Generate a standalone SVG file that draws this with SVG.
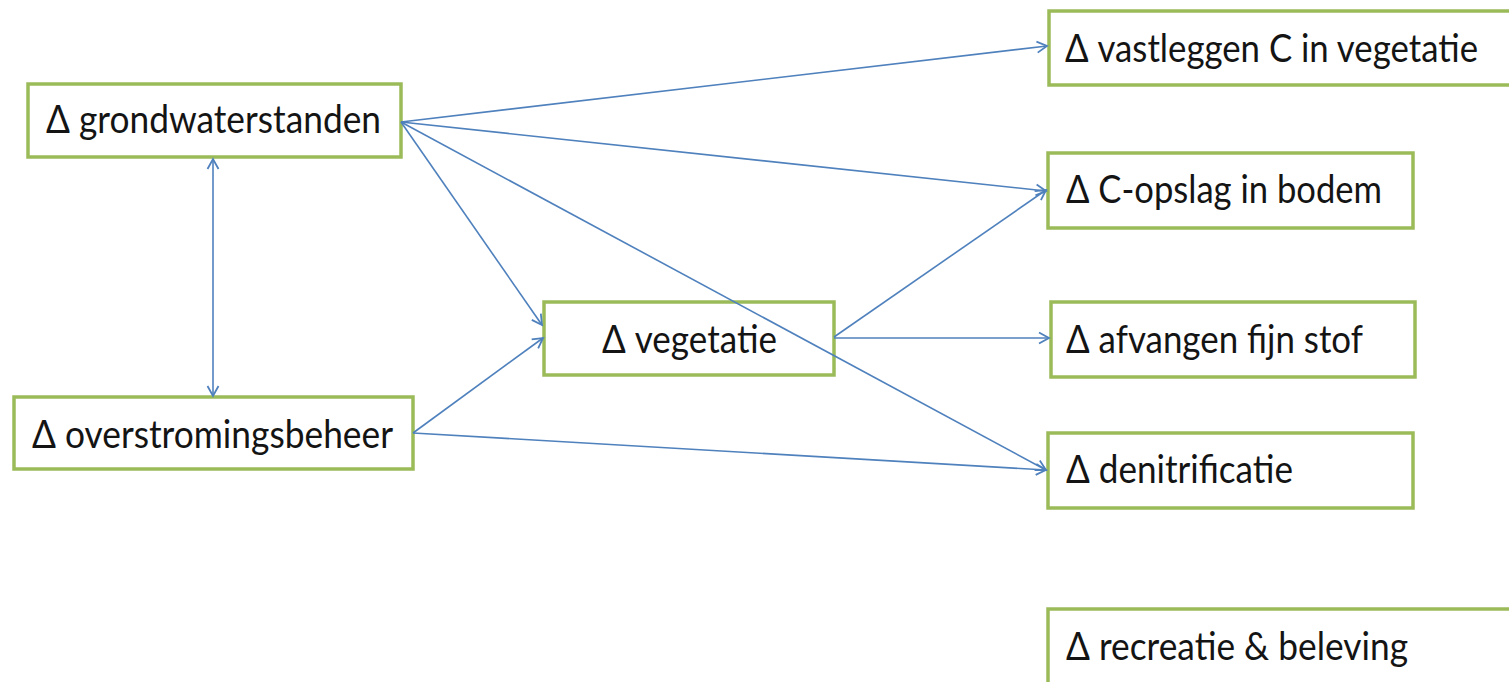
<svg xmlns="http://www.w3.org/2000/svg" width="1509" height="682" viewBox="0 0 1509 682">
<style>
.box{fill:#fff;stroke:#9BBB59;stroke-width:3.5}
.lbl{font-family:Lato,"Open Sans","Liberation Sans",sans-serif;font-size:38px;fill:#141414}
.edge{stroke:#4F81BD;stroke-width:1.6;fill:none}
</style>
<defs>
<marker id="ah" markerUnits="userSpaceOnUse" markerWidth="16" markerHeight="16" refX="13" refY="8" orient="auto-start-reverse">
<path d="M3,2.5 L13,8 L3,13.5" fill="none" stroke="#4F81BD" stroke-width="1.8"/>
</marker>
</defs>
<rect width="1509" height="682" fill="#fff"/>
<g id="n-grondwater">
<rect class="box" x="28" y="84" width="373" height="73"/>
<text class="lbl" x="46" y="133" textLength="335" lengthAdjust="spacingAndGlyphs">Δ grondwaterstanden</text>
</g>
<g id="n-overstroming">
<rect class="box" x="14" y="397" width="399" height="72"/>
<text class="lbl" x="32" y="448" textLength="361" lengthAdjust="spacingAndGlyphs">Δ overstromingsbeheer</text>
</g>
<g id="n-vegetatie">
<rect class="box" x="544" y="302" width="290" height="73"/>
<text class="lbl" x="602" y="353" textLength="175" lengthAdjust="spacingAndGlyphs">Δ vegetatie</text>
</g>
<g id="n-vastleggen">
<rect class="box" x="1049" y="11" width="465" height="74"/>
<text class="lbl" x="1065" y="62" textLength="413" lengthAdjust="spacingAndGlyphs">Δ vastleggen C in vegetatie</text>
</g>
<g id="n-copslag">
<rect class="box" x="1048" y="153" width="365" height="75"/>
<text class="lbl" x="1066" y="203" textLength="316" lengthAdjust="spacingAndGlyphs">Δ C-opslag in bodem</text>
</g>
<g id="n-afvangen">
<rect class="box" x="1051" y="302" width="364" height="75"/>
<text class="lbl" x="1066" y="353" textLength="297" lengthAdjust="spacingAndGlyphs">Δ afvangen fijn stof</text>
</g>
<g id="n-denitrificatie">
<rect class="box" x="1048" y="433" width="365" height="75"/>
<text class="lbl" x="1066" y="483" textLength="227" lengthAdjust="spacingAndGlyphs">Δ denitrificatie</text>
</g>
<g id="n-recreatie">
<rect class="box" x="1048" y="609" width="466" height="90"/>
<text class="lbl" x="1066" y="660" textLength="342" lengthAdjust="spacingAndGlyphs">Δ recreatie &amp; beleving</text>
</g>
<g id="connectors">
<line class="edge" x1="401" y1="122" x2="1047" y2="46" marker-end="url(#ah)"/>
<line class="edge" x1="401" y1="122" x2="1046" y2="191" marker-end="url(#ah)"/>
<line class="edge" x1="401" y1="122" x2="542" y2="325" marker-end="url(#ah)"/>
<line class="edge" x1="401" y1="122" x2="1046" y2="470" marker-end="url(#ah)"/>
<line class="edge" x1="213" y1="159" x2="213" y2="396" marker-start="url(#ah)" marker-end="url(#ah)"/>
<line class="edge" x1="413" y1="433" x2="543" y2="338" marker-end="url(#ah)"/>
<line class="edge" x1="413" y1="433" x2="1046" y2="470" marker-end="url(#ah)"/>
<line class="edge" x1="834" y1="337" x2="1046" y2="190" marker-end="url(#ah)"/>
<line class="edge" x1="834" y1="338" x2="1049" y2="338" marker-end="url(#ah)"/>
</g>
</svg>
